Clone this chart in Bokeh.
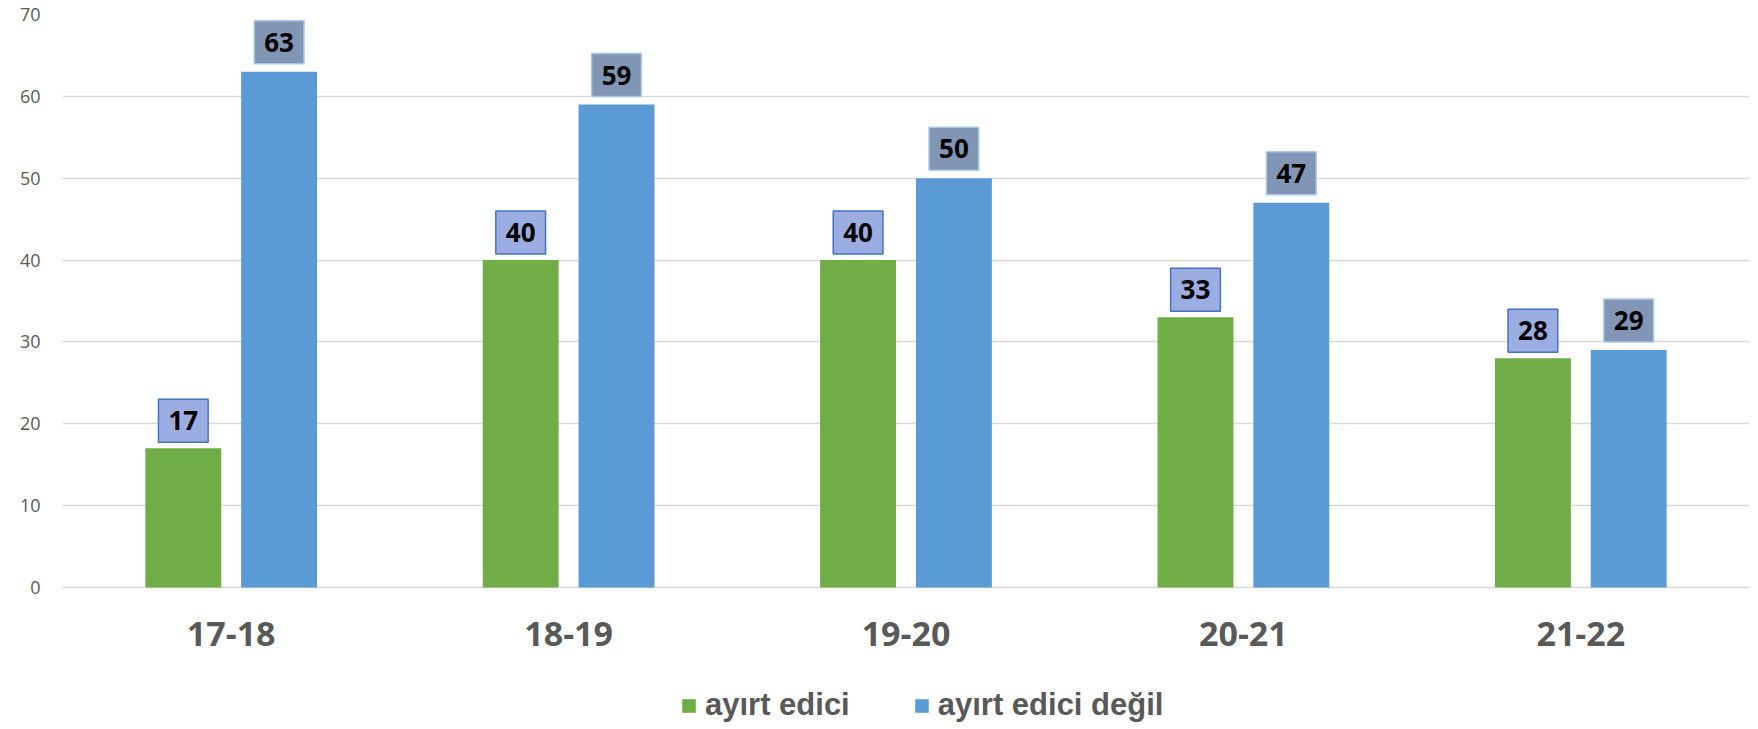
from bokeh.plotting import figure
from bokeh.models import ColumnDataSource, FactorRange, Legend, LegendItem, FixedTicker, Range1d
from bokeh.transform import dodge
from bokeh.core.properties import value
from bokeh.embed import file_html
from bokeh.resources import INLINE

categories = ["17-18", "18-19", "19-20", "20-21", "21-22"]
ayirt_edici = [17, 40, 40, 33, 28]
ayirt_edici_degil = [63, 59, 50, 47, 29]
y_ticks = [0, 10, 20, 30, 40, 50, 60, 70]

src = ColumnDataSource(dict(
    cat=categories,
    a=ayirt_edici,
    b=ayirt_edici_degil,
    a_txt=[str(v) for v in ayirt_edici],
    b_txt=[str(v) for v in ayirt_edici_degil],
))
cat_src = ColumnDataSource(dict(cat=categories, base=[0] * len(categories)))

W, H = 1758, 729
TOP = 14          # frame top (px)
ZERO = 587        # pixel row of the value 0
y_max = 70
y_min = -y_max * (H - ZERO) / (ZERO - TOP)   # frame extends below 0 to hold labels/legend

p = figure(width=W, height=H, x_range=FactorRange(*categories, range_padding=0),
           y_range=Range1d(y_min, y_max), output_backend="svg", toolbar_location=None,
           min_border_left=62, min_border_right=9, min_border_top=TOP, min_border_bottom=0)
p.outline_line_color = None
p.background_fill_color = "white"
p.border_fill_color = "white"

r_a = p.vbar(x=dodge("cat", -0.142, range=p.x_range), top="a", width=0.225, source=src,
             fill_color="#70ad47", line_color=None)
r_b = p.vbar(x=dodge("cat", 0.142, range=p.x_range), top="b", width=0.225, source=src,
             fill_color="#5b9bd5", line_color=None)

lbl_font = value("Open Sans")
p.text(x=dodge("cat", -0.142, range=p.x_range), y="a", text="a_txt", source=src,
       text_align="center", text_baseline="bottom", y_offset=-6,
       text_font=lbl_font, text_font_style="bold", text_font_size="26px", text_color="black",
       background_fill_color="#9cade2", border_line_color="#4472c4", border_line_width=1.5,
       padding=(10, 12))
p.text(x=dodge("cat", 0.142, range=p.x_range), y="b", text="b_txt", source=src,
       text_align="center", text_baseline="bottom", y_offset=-8,
       text_font=lbl_font, text_font_style="bold", text_font_size="26px", text_color="black",
       background_fill_color="#8196b5", border_line_color="#a9c8ec", border_line_width=1.5,
       padding=(10, 12))

# category labels under the zero line
p.text(x="cat", y="base", text="cat", source=cat_src, text_align="center",
       text_baseline="middle", y_offset=46, text_font=lbl_font, text_font_style="bold",
       text_font_size="34px", text_color="#595959")

p.ygrid.grid_line_color = "#d9d9d9"
p.ygrid.grid_line_width = 1.5
p.xgrid.grid_line_color = None

p.yaxis.ticker = FixedTicker(ticks=y_ticks)
p.yaxis.axis_line_color = None
p.yaxis.major_tick_line_color = None
p.yaxis.minor_tick_line_color = None
p.yaxis.major_label_text_font = "Open Sans"
p.yaxis.major_label_text_font_size = "18px"
p.yaxis.major_label_text_color = "#595959"
p.yaxis.major_label_standoff = 16

p.xaxis.visible = False

legend = Legend(items=[LegendItem(label="ayırt edici", renderers=[r_a]),
                       LegendItem(label="ayırt edici değil", renderers=[r_b])],
                orientation="horizontal", location=(618, 6),
                label_text_font="Liberation Sans", label_text_font_style="bold",
                label_text_font_size="31px", label_text_color="#595959",
                glyph_width=17, glyph_height=17, label_standoff=8, spacing=63,
                border_line_color=None, background_fill_alpha=0, margin=0, padding=0)
p.add_layout(legend, "center")

open("out.html", "w").write(file_html(p, INLINE))
